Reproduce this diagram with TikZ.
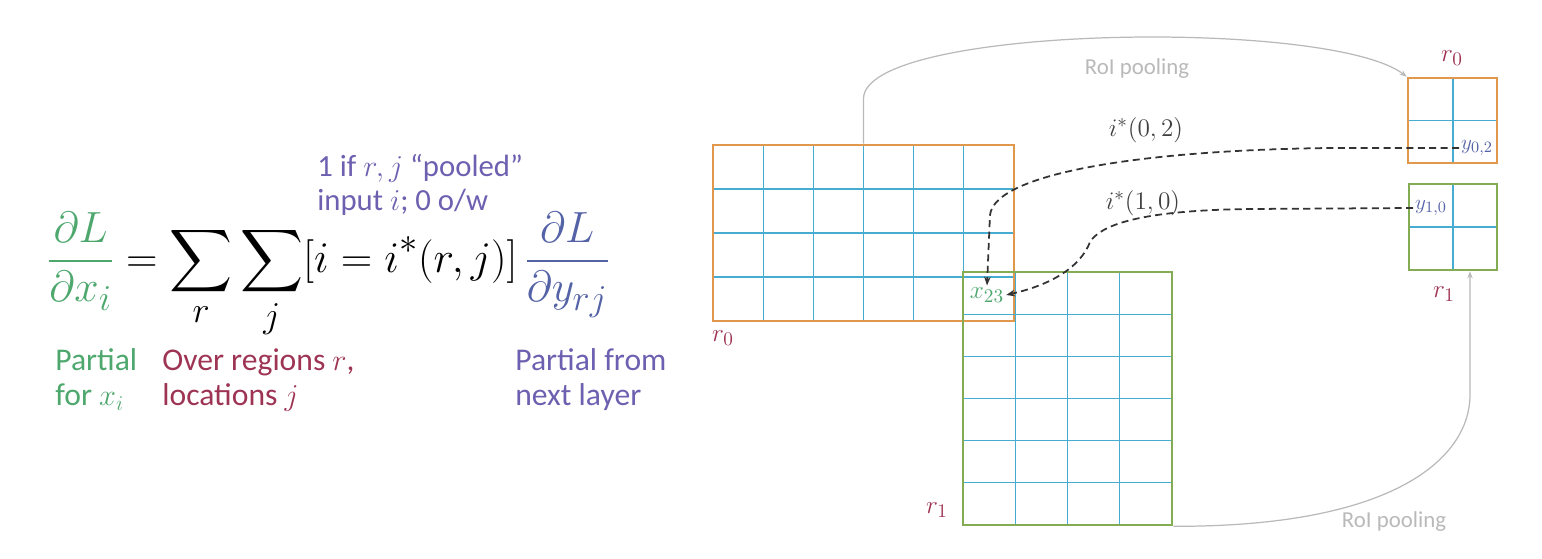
\documentclass[tikz,border=0pt]{standalone}
\usepackage{exscale}
\usepackage{fontspec}
\setmainfont{Carlito}
\usetikzlibrary{arrows.meta}
\definecolor{eqgreen}{RGB}{78,168,110}
\definecolor{regred}{RGB}{158,52,84}
\definecolor{poolpurple}{RGB}{110,96,176}
\definecolor{yblue}{RGB}{84,98,166}
\definecolor{fmorange}{RGB}{226,152,76}
\definecolor{fmgreen}{RGB}{132,172,84}
\definecolor{cellblue}{RGB}{70,172,210}
\definecolor{roigray}{RGB}{185,185,185}
\tikzset{
	cell/.style={cellblue, line width=0.6pt},
	fmapbox/.style={draw, line width=1.5pt, inner sep=0pt},
	note/.style={align=left, anchor=north west, inner sep=0pt, font=\fontsize{18}{20}\selectfont},
	regionlabel/.style={text=regred, font=\fontsize{15}{18}\selectfont},
	roi/.style={roigray, line width=0.7pt, -{Stealth[length=4pt]}},
	backprop/.style={black!80, line width=1pt, dash pattern=on 4pt off 2.5pt, -{Stealth[length=5pt]}}
}
\begin{document}
\begin{tikzpicture}[x=0.02cm, y=-0.02cm]
	\useasboundingbox (0,0) rectangle (1542,558);
	%formula
	\node[anchor=base west, inner sep=0pt] (eq) at (47,272) {\fontsize{28}{32}\selectfont
		$\displaystyle {\color{eqgreen}\frac{\partial L}{\partial x_i}} = \sum_r\sum_j [i = i^*(r,j)]\,{\color{yblue}\frac{\partial L}{\partial y_{rj}}}$};
	\node[note, text=poolpurple, font=\fontsize{17.5}{19.5}\selectfont] (pooled) at (317,154) {1 if $r,j$ ``pooled''\\input $i$; 0 o/w};
	\node[note, text=eqgreen] (partx) at (55,348) {Partial\\for $x_i$};
	\node[note, text=regred] (over) at (162,348) {Over regions $r$,\\locations $j$};
	\node[note, text=poolpurple] (party) at (515,348) {Partial from\\next layer};
	%feature map, region 0
	\foreach \k in {1,...,5}
	\draw[cell] ({713+50.17*\k},145) -- ({713+50.17*\k},321);
	\foreach \k in {1,...,3}
	\draw[cell] (713,{145+44*\k}) -- (1014,{145+44*\k});
	\node[fmapbox, fmorange, minimum width=6.02cm, minimum height=3.52cm] (fmap0) at (863.5,233) {};
	%feature map, region 1
	\foreach \k in {1,...,3}
	\draw[cell] ({963+52.25*\k},272) -- ({963+52.25*\k},525);
	\foreach \k in {1,...,5}
	\draw[cell] (963,{272+42.17*\k}) -- (1172,{272+42.17*\k});
	\node[fmapbox, fmgreen, minimum width=4.18cm, minimum height=5.06cm] (fmap1) at (1067.5,398.5) {};
	%pooled outputs
	\draw[cell] (1453,78) -- (1453,163) (1408,120.5) -- (1497,120.5);
	\draw[cell] (1453,184) -- (1453,270) (1409,227) -- (1497,227);
	\node[fmapbox, fmorange, minimum width=1.78cm, minimum height=1.7cm] (pool0) at (1452.5,120.5) {};
	\node[fmapbox, fmgreen, minimum width=1.76cm, minimum height=1.72cm] (pool1) at (1453,227) {};
	%labels
	\node[regionlabel] (r0a) at (723,338) {$r_0$};
	\node[regionlabel] (r1a) at (937,510) {$r_1$};
	\node[regionlabel] (r0b) at (1452,58) {$r_0$};
	\node[regionlabel] (r1b) at (1444,294) {$r_1$};
	\node[text=eqgreen, font=\fontsize{15}{18}\selectfont, inner sep=1pt] (x23) at (987,295) {$x_{23}$};
	\node[text=yblue, font=\fontsize{13}{16}\selectfont, inner sep=1pt] (y02) at (1477,148) {$y_{0,2}$};
	\node[text=yblue, font=\fontsize{13}{16}\selectfont, inner sep=1pt] (y10) at (1431,208) {$y_{1,0}$};
	\node[text=black!75, font=\fontsize{15}{18}\selectfont] (istar02) at (1146,130) {$i^*(0,2)$};
	\node[text=black!75, font=\fontsize{15}{18}\selectfont] (istar10) at (1143,203) {$i^*(1,0)$};
	%roi pooling
	\draw[roi] (fmap0.north) -- ++(0,-45) .. controls (864,25) and (1330,18) .. (pool0.north west);
	\node[text=roigray, font=\fontsize{13}{16}\selectfont] (roi0) at (1137,69) {RoI pooling};
	\draw[roi] (fmap1.south east) .. controls (1400,527) and (1470,455) .. (1470,395) -- ([xshift=0.34cm]pool1.south);
	\node[text=roigray, font=\fontsize{13}{16}\selectfont] (roi1) at (1394,522) {RoI pooling};
	%backprop
	\draw[backprop] (y02.west) -- (1330,148) .. controls (1150,150) and (995,172) .. (990,215) -- (x23.north);
	\draw[backprop] (y10.west) -- (1250,209) .. controls (1170,210) and (1105,218) .. (1090,242)
	.. controls (1080,268) and (1050,285) .. (x23.east);
\end{tikzpicture}
\end{document}
